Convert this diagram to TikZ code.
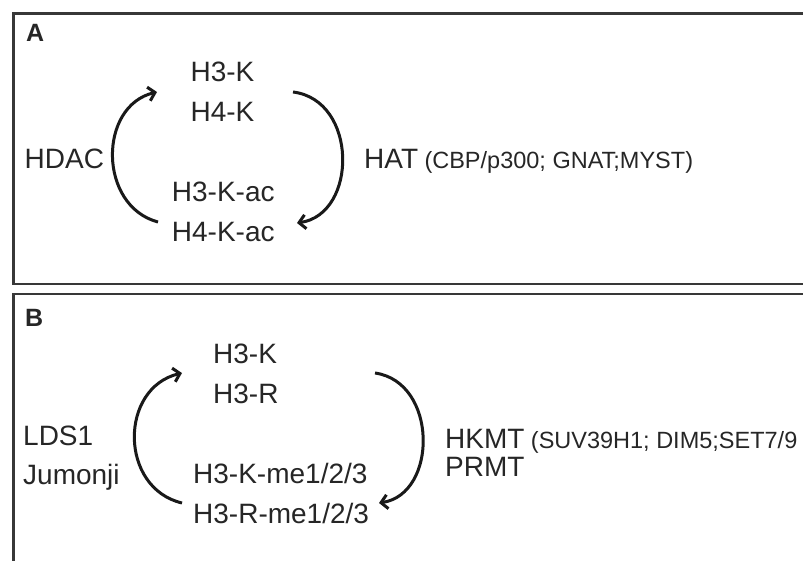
\documentclass[tikz,border=0pt]{standalone}
\usepackage{fontspec}
\setmainfont{Liberation Sans}
\usetikzlibrary{arrows.meta}
\begin{document}
\begin{tikzpicture}[x=1pt,y=-1pt,
  lbl/.style={inner sep=0pt, anchor=base west, font=\fontsize{28}{34}\selectfont, text=black!85},
  ctr/.style={lbl, anchor=base},
  sml/.style={inner sep=0pt, anchor=base west, font=\fontsize{23.5}{28}\selectfont, text=black!85},
  tag/.style={inner sep=0pt, anchor=base west, font=\bfseries\fontsize{25}{30}\selectfont, text=black!85},
  panel/.style={draw=black!78, line width=2.5pt},
  cyc/.style={line width=3pt, draw=black!90, -{Straight Barb[length=6.5pt,width=14pt]}}
]
\useasboundingbox (0,0) rectangle (803,560);
\begin{scope}
  \clip (0,0) rectangle (803,560);
  \draw[panel] (13.5,13.5) rectangle (830,284);
  \draw[panel] (13.5,294) rectangle (830,600);
\end{scope}

% ---------- Panel A ----------
\node[tag] (tagA) at (26,41) {A};
\node[ctr] (a1) at (222.5,81.7) {H3-K};
\node[ctr] (a2) at (222.5,121.7) {H4-K};
\node[ctr] (a3) at (223.3,201.7) {H3-K-ac};
\node[ctr] (a4) at (223.3,241.7) {H4-K-ac};
\node[lbl] (hdac) at (24.5,168) {HDAC};
\node[lbl] (hat) at (364,168) {HAT};
\node[sml] (hatx) at ([xshift=6pt]hat.base east) {(CBP/p300; GNAT;MYST)};

\coordinate (A1) at (158,222);
\coordinate (A2) at (157,92);
\coordinate (A3) at (293,92);
\coordinate (A4) at (297,223);
\draw[cyc] (A1) .. controls (98,206) and (98,106) .. (A2);
\draw[cyc] (A3) .. controls (358,100) and (358,214) .. (A4);

% ---------- Panel B ----------
\node[tag] (tagB) at (25,326) {B};
\node[lbl] (b1) at (213,363.3) {H3-K};
\node[lbl] (b2) at (213,403.3) {H3-R};
\node[lbl] (b3) at (193,483.3) {H3-K-me1/2/3};
\node[lbl] (b4) at (193,523.3) {H3-R-me1/2/3};
\node[lbl] (lds) at (23,445) {LDS1};
\node[lbl] (jum) at (23,484) {Jumonji};
\node[lbl] (hkmt) at (445,448) {HKMT};
\node[sml] (hkmtx) at ([xshift=6pt]hkmt.base east) {(SUV39H1; DIM5;SET7/9};
\node[lbl] (prmt) at (445,476.5) {PRMT};

\coordinate (B1) at (182,503);
\coordinate (B2) at (182,373);
\coordinate (B3) at (375,373);
\coordinate (B4) at (379,503);
\draw[cyc] (B1) .. controls (119,488) and (119,388) .. (B2);
\draw[cyc] (B3) .. controls (438,382) and (438,494) .. (B4);
\end{tikzpicture}
\end{document}
